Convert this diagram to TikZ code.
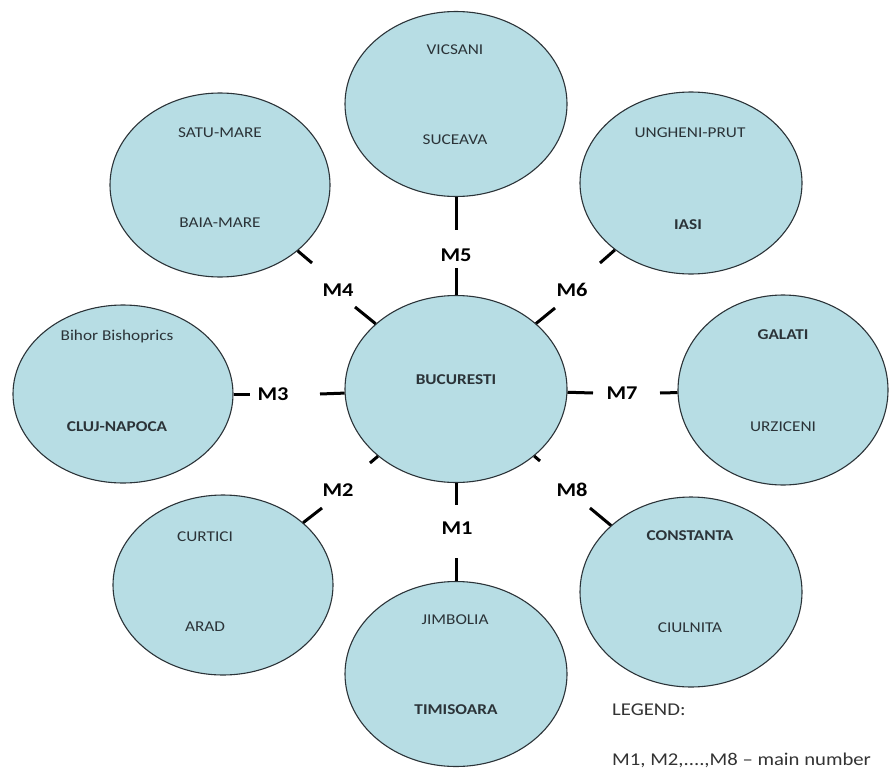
\documentclass[tikz,border=0pt]{standalone}
\usepackage{fontspec}
\setmainfont[FakeStretch=1.15]{Carlito}
\usetikzlibrary{shapes.geometric}
\definecolor{cityfill}{HTML}{B7DDE4}
\definecolor{rim}{HTML}{2B3338}
\tikzset{
  city/.style 2 args={ellipse,draw=rim,line width=1.1pt,fill=cityfill,inner sep=0pt,
    minimum width=#1pt,minimum height=#2pt},
  ctext/.style={font=\fontsize{15}{18}\selectfont,text=rim,inner sep=0pt,text depth=0pt},
  btext/.style={ctext,font=\fontsize{15}{18}\selectfont\bfseries},
  mlab/.style={font=\fontsize{19.5}{22}\selectfont\bfseries,inner sep=0pt},
  legtext/.style={font=\fontsize{18}{21}\selectfont,text=black!80,inner sep=0pt,anchor=west},
  link/.style={line width=3pt},
}
\begin{document}
\begin{tikzpicture}[x=1pt,y=-1pt]
\useasboundingbox (0,0) rectangle (890,773);
% circles
\node[city={222}{187},btext] (buc) at (456,389) {};
\node[btext] (buc1) at (456,380) {BUCURESTI};
\node[city={222}{185}] (n)  at (456,104) {};
\node[city={220}{184}] (nw) at (220,185) {};
\node[city={222}{182}] (ne) at (691,183) {};
\node[city={220}{178}] (w)  at (123,394) {};
\node[city={210}{190}] (e)  at (783,390) {};
\node[city={220}{180}] (sw) at (223,585) {};
\node[city={222}{185}] (s)  at (456,674) {};
\node[city={222}{190}] (se) at (691,592) {};
% city names
\node[ctext] (n1)  at (455,50)  {VICSANI};
\node[ctext] (n2)  at (455,140) {SUCEAVA};
\node[ctext] (nw1) at (220,133) {SATU-MARE};
\node[ctext] (nw2) at (220,223) {BAIA-MARE};
\node[ctext] (ne1) at (690,133) {UNGHENI-PRUT};
\node[btext] (ne2) at (688,225) {IASI};
\node[ctext] (w1)  at (117,335) {Bihor Bishoprics};
\node[btext] (w2)  at (117,427) {CLUJ-NAPOCA};
\node[btext] (e1)  at (783,335) {GALATI};
\node[ctext] (e2)  at (783,427) {URZICENI};
\node[ctext] (sw1) at (205,537) {CURTICI};
\node[ctext] (sw2) at (205,627) {ARAD};
\node[ctext] (s1)  at (455,620) {JIMBOLIA};
\node[btext] (s2)  at (456,710) {TIMISOARA};
\node[btext] (se1) at (690,536) {CONSTANTA};
\node[ctext] (se2) at (690,628) {CIULNITA};
% main numbers
\node[mlab] (m1) at (457,528) {M1};
\node[mlab] (m2) at (338,490) {M2};
\node[mlab] (m3) at (273,394) {M3};
\node[mlab] (m4) at (338,290) {M4};
\node[mlab] (m5) at (456,255) {M5};
\node[mlab] (m6) at (572,290) {M6};
\node[mlab] (m7) at (622,393) {M7};
\node[mlab] (m8) at (572,490) {M8};
% tick ends
\foreach \t/\x/\y in {t1a/456/505, t1b/456/558, t2a/370/463, t2b/322/508,
    t3a/320/394, t3b/250/394, t4a/355/307, t4b/312/263,
    t5a/456/268, t5b/456/230, t6a/555/308, t6b/600/263,
    t7a/593/393, t7b/660/393, t8a/540/461, t8b/590/508}
  \coordinate (\t) at (\x,\y);
\foreach \a/\b in {buc/t1a, s/t1b, buc/t2a, sw/t2b, buc/t3a, w/t3b, buc/t4a, nw/t4b,
    buc/t5a, n/t5b, buc/t6a, ne/t6b, buc/t7a, e/t7b, buc/t8a, se/t8b}
  \draw[link] (\a) -- (\b);
% legend
\node[legtext] (leg1) at (612,710) {LEGEND:};
\node[legtext] (leg2) at (612,760) {M1, M2,....,M8 – main number};
\end{tikzpicture}
\end{document}
